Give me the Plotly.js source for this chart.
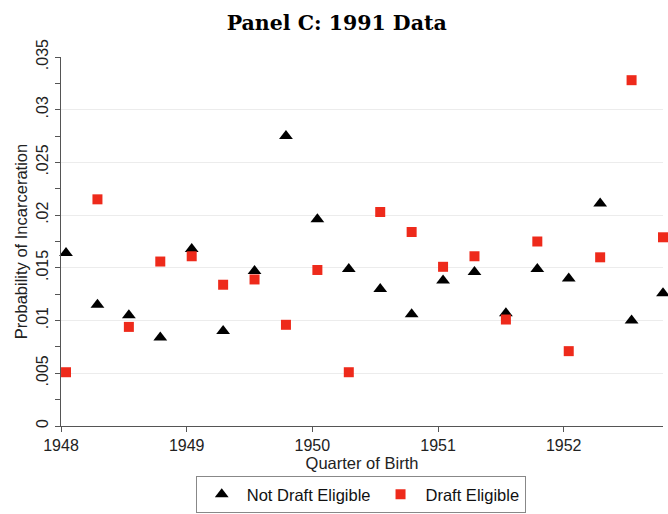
<!DOCTYPE html>
<html>
<head>
<meta charset="utf-8">
<script src="https://cdn.plot.ly/plotly-3.0.1.min.js"></script>
<style>html,body{margin:0;padding:0;background:#fff;}#chart{width:668px;height:514px;}</style>
</head>
<body>
<div id="chart"></div>
<script>
// Quarter of birth (decimal year, as plotted)
const quarters = [1948.04, 1948.29, 1948.54, 1948.79, 1949.04, 1949.29, 1949.54, 1949.79,
                  1950.04, 1950.29, 1950.54, 1950.79, 1951.04, 1951.29, 1951.54, 1951.79,
                  1952.04, 1952.29, 1952.54, 1952.79];
// Probability of incarceration, 1991 data
const notDraftEligible = [0.0164, 0.0115, 0.0105, 0.0084, 0.0168, 0.0090, 0.0147, 0.0275,
                          0.0196, 0.0149, 0.0130, 0.0106, 0.0138, 0.0146, 0.0107, 0.0149,
                          0.0140, 0.0211, 0.0100, 0.0126];
const draftEligible = [0.0051, 0.0215, 0.0094, 0.0156, 0.0161, 0.0134, 0.0139, 0.0096,
                       0.0148, 0.0051, 0.0203, 0.0184, 0.0151, 0.0161, 0.0101, 0.0175,
                       0.0071, 0.0160, 0.0328, 0.0179];
const yTickVals = [0, 0.005, 0.01, 0.015, 0.02, 0.025, 0.03, 0.035];
const yTickText = ['0', '.005', '.01', '.015', '.02', '.025', '.03', '.035'];
const xTickVals = [1948, 1949, 1950, 1951, 1952];
const xTickText = ['1948', '1949', '1950', '1951', '1952'];

const sans = 'Liberation Sans, Arial, sans-serif';
const traces = [
  {x: quarters, y: notDraftEligible, type: 'scatter', mode: 'markers', name: 'Not Draft Eligible',
   cliponaxis: false,
   marker: {symbol: 'triangle-up', size: 12, color: '#000000'}},
  {x: quarters, y: draftEligible, type: 'scatter', mode: 'markers', name: 'Draft Eligible',
   cliponaxis: false,
   marker: {symbol: 'square', size: 10, color: '#ee2a1b'}}
];
const layout = {
  width: 668, height: 514,
  margin: {l: 61, r: 5, t: 57, b: 88},
  paper_bgcolor: '#ffffff', plot_bgcolor: '#ffffff',
  showlegend: true,
  title: {text: 'Panel C: 1991 Data', font: {family: 'DejaVu Serif, serif', size: 20.5, color: '#000', weight: 'bold'},
          x: 0.504, xref: 'container', xanchor: 'center', y: 0.955, yref: 'container', yanchor: 'middle'},
  xaxis: {range: [1948, 1952.79], tickvals: xTickVals, ticktext: xTickText, showgrid: false, zeroline: false,
          showline: true, linecolor: '#555', linewidth: 1.2, ticks: 'outside', ticklen: 5, tickcolor: '#555',
          automargin: false,
          tickfont: {family: sans, size: 16, color: '#222'},
          title: {text: 'Quarter of Birth', font: {family: sans, size: 16.5, color: '#222'}, standoff: 4}},
  yaxis: {range: [0, 0.035], tickvals: yTickVals, ticktext: yTickText, tickangle: -90,
          showgrid: true, gridcolor: '#ececec', gridwidth: 1, zeroline: false,
          showline: true, linecolor: '#555', linewidth: 1.2, ticks: 'outside', ticklen: 5, tickcolor: '#555',
          automargin: false,
          tickfont: {family: sans, size: 16, color: '#222'},
          minor: {dtick: 0.0025, ticks: 'outside', ticklen: 5, tickcolor: '#555', showgrid: false},
          title: {text: 'Probability of Incarceration', font: {family: sans, size: 16.5, color: '#222'}, standoff: 2}},
  legend: {orientation: 'h', x: 0.54, xref: 'container', xanchor: 'center', y: 0.074, yref: 'container', yanchor: 'top',
           bordercolor: '#888', borderwidth: 1, font: {family: sans, size: 16.5, color: '#111'},
           itemwidth: 40, traceorder: 'normal'}
};
Plotly.newPlot('chart', traces, layout, {displayModeBar: false, staticPlot: true});
</script>
</body>
</html>
